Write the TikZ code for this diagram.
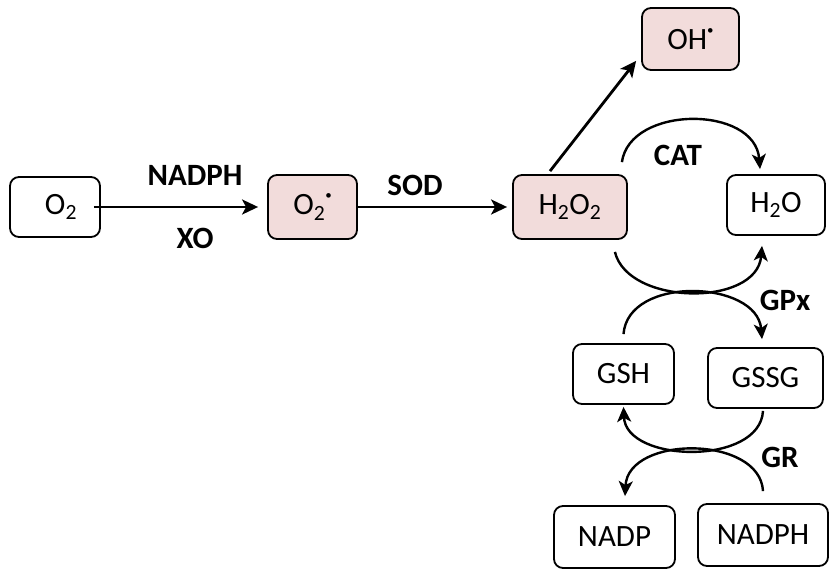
\documentclass[tikz,border=0pt]{standalone}
\usepackage{fontspec}
\setmainfont{Carlito}
\usetikzlibrary{arrows.meta}
\definecolor{pinkfill}{HTML}{F2DCDB}
\newcommand{\rdot}{\raisebox{15pt}{\fontsize{13}{13}\selectfont •}}
\begin{document}
\begin{tikzpicture}[x=1pt,y=-1pt,
  font=\fontsize{31}{37}\selectfont,
  box/.style={draw=black, line width=1.8pt, rounded corners=9pt, inner sep=0pt, align=center},
  radbox/.style={box, fill=pinkfill},
  arr/.style={line width=2.8pt, -{Stealth[length=16pt,width=15pt,inset=4pt]}},
  carr/.style={line width=2.4pt, -{Stealth[length=15pt,width=14pt,inset=4pt]}},
  lab/.style={font=\fontsize{31}{37}\selectfont\bfseries}]
\useasboundingbox (0,0) rectangle (832,570);

\node[box, minimum width=90pt, minimum height=60pt] (o2) at (55,207) {\hspace*{12pt}O\textsubscript{2}};
\node[radbox, minimum width=89pt, minimum height=64pt] (o2r) at (312.5,207) {O\textsubscript{2}\rdot};
\node[radbox, minimum width=114pt, minimum height=64pt] (h2o2) at (570,207) {H\textsubscript{2}O\textsubscript{2}};
\node[radbox, minimum width=97pt, minimum height=62pt] (oh) at (690.5,39) {OH\rdot};
\node[box, minimum width=98pt, minimum height=60pt] (h2o) at (776,205) {H\textsubscript{2}O};
\node[box, minimum width=101pt, minimum height=60pt] (gsh) at (623.5,374) {GSH};
\node[box, minimum width=115pt, minimum height=60pt] (gssg) at (765.5,378) {GSSG};
\node[box, minimum width=121pt, minimum height=62pt] (nadp) at (614.5,537) {NADP};
\node[box, minimum width=130pt, minimum height=62pt] (nadph) at (763,535) {NADPH};

\node[lab] (lnadph) at (195,175) {NADPH};
\node[lab] (lxo) at (195,238) {XO};
\node[lab] (lsod) at (415,185) {SOD};
\node[lab] (lcat) at (678,155) {CAT};
\node[lab] (lgpx) at (785,300) {GPx};
\node[lab] (lgr) at (780,457) {GR};

\draw[arr] ([xshift=-7pt]o2.east) -- ([xshift=-9pt]o2r.west);
\draw[arr] (o2r.east) -- ([xshift=-5pt]h2o2.west);
\draw[arr] ([xshift=-20pt,yshift=3pt]h2o2.north) -- ([xshift=-5pt,yshift=10pt]oh.south west);

\draw[carr] ([xshift=-6pt,yshift=12pt]h2o2.north east) .. controls (630,105) and (755,105) .. ([xshift=-16pt,yshift=5pt]h2o.north);

\draw[carr] ([xshift=-13pt,yshift=-12pt]h2o2.south east) .. controls (628,306) and (757,307) .. ([xshift=-14pt,yshift=-10pt]h2o.south);
\draw[carr] ([yshift=9pt]gsh.north) .. controls (628,275) and (757,280) .. ([xshift=-3.5pt,yshift=8pt]gssg.north);

\draw[carr] ([xshift=-2.5pt,yshift=-2pt]gssg.south) .. controls (760,466) and (626,463) .. ([yshift=-2pt]gsh.south);
\draw[carr] ([yshift=12pt]nadph.north) .. controls (760,435) and (628,435) .. ([xshift=10.5pt,yshift=9pt]nadp.north);
\end{tikzpicture}
\end{document}
